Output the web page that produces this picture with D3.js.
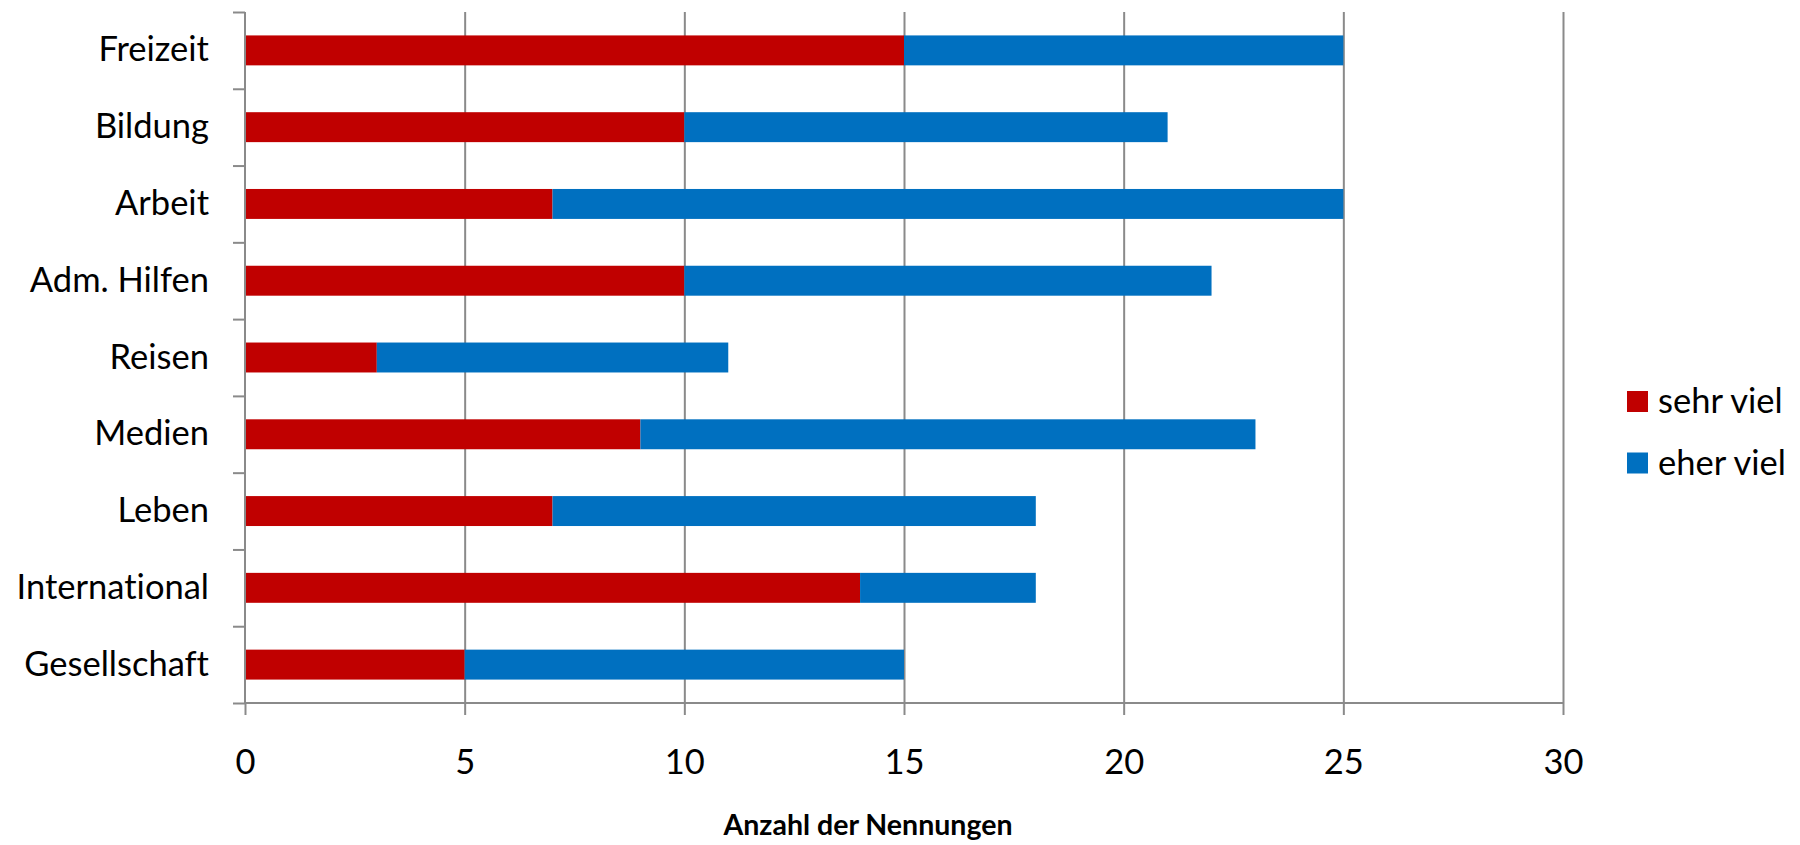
<!DOCTYPE html>
<html>
<head>
<meta charset="utf-8">
<script src="https://cdn.jsdelivr.net/npm/d3@7"></script>
<style>
  html, body { margin: 0; padding: 0; background: #fff; }
  svg { display: block; }
  text { font-family: Lato, "Open Sans", sans-serif; fill: #000; font-variant-ligatures: none; font-feature-settings: "liga" 0, "clig" 0; }
</style>
</head>
<body>
<svg id="chart" width="1800" height="845"></svg>
<script>
// Categories from top to bottom
const categories = ["Freizeit", "Bildung", "Arbeit", "Adm. Hilfen", "Reisen", "Medien", "Leben", "International", "Gesellschaft"];
// Number of mentions per answer
const sehrViel = [15, 10, 7, 10, 3, 9, 7, 14, 5];
const eherViel = [10, 11, 18, 12, 8, 14, 11, 4, 10];
const seriesNames = ["sehr viel", "eher viel"];
const seriesColors = ["#C00000", "#0070C0"];
const xTicks = [0, 5, 10, 15, 20, 25, 30];
const xTitle = "Anzahl der Nennungen";

const svg = d3.select("#chart");
const plotLeft = 245, plotRight = 1563, plotTop = 12, plotBottom = 703;
const labelSize = 34.5;

const x = d3.scaleLinear().domain([0, 30]).range([plotLeft, plotRight]);
const y = d3.scaleBand().domain(categories).range([plotTop, plotBottom])
  .paddingInner(0.61).paddingOuter(0.305);

// Vertical gridlines behind the bars
svg.append("g")
  .attr("transform", `translate(0,${plotBottom})`)
  .call(d3.axisBottom(x).tickValues(xTicks.slice(1)).tickSize(-(plotBottom - plotTop)).tickFormat(""))
  .call(g => g.select(".domain").remove())
  .call(g => g.selectAll("line").attr("stroke", "#8a8a8a").attr("stroke-width", 2));

// Stacked bars
const stackData = categories.map((c, i) => ({ cat: c, s0: sehrViel[i], s1: eherViel[i] }));
const stacked = d3.stack().keys(["s0", "s1"])(stackData);

svg.append("g").selectAll("g")
  .data(stacked)
  .join("g")
  .attr("fill", (d, i) => seriesColors[i])
  .selectAll("rect")
  .data(d => d)
  .join("rect")
  .attr("x", d => x(d[0]))
  .attr("width", d => x(d[1]) - x(d[0]))
  .attr("y", d => y(d.data.cat))
  .attr("height", y.bandwidth());

// X axis with outward ticks
const xAxis = svg.append("g")
  .attr("transform", `translate(0,${plotBottom})`)
  .call(d3.axisBottom(x).tickValues(xTicks).tickSize(12).tickPadding(47));
xAxis.selectAll("line, path").attr("stroke", "#8a8a8a").attr("stroke-width", 2);
xAxis.select(".domain").attr("d", `M${plotLeft},0H${plotRight}`);
xAxis.selectAll("text")
  .attr("font-size", labelSize)
  .attr("font-family", "Lato, sans-serif")
  .attr("fill", "#000")
  .attr("dy", "0.35em");

// Y axis: boundary ticks between categories
const boundaries = d3.range(categories.length + 1).map(i => plotTop + i * y.step());
const yBound = d3.scaleLinear().domain([plotTop, plotBottom]).range([plotTop, plotBottom]);
const yAxis = svg.append("g")
  .attr("transform", `translate(${plotLeft},0)`)
  .call(d3.axisLeft(yBound).tickValues(boundaries).tickSize(12).tickFormat(""));
yAxis.selectAll("line, path").attr("stroke", "#8a8a8a").attr("stroke-width", 2);
yAxis.select(".domain").attr("d", `M0,${plotTop}V${plotBottom}`);

// Category labels
svg.append("g")
  .attr("transform", `translate(${plotLeft},0)`)
  .call(d3.axisLeft(y).tickSize(0).tickPadding(36))
  .call(g => g.select(".domain").remove())
  .selectAll("text")
  .attr("font-size", labelSize)
  .attr("font-family", "Lato, sans-serif")
  .attr("fill", "#000");

// Axis title
svg.append("text")
  .attr("x", 868)
  .attr("y", 835)
  .attr("text-anchor", "middle")
  .attr("font-size", 28.5)
  .attr("font-weight", "bold")
  .text(xTitle);

// Legend
const legend = svg.append("g").attr("transform", "translate(1627,391)");
seriesNames.forEach((name, i) => {
  const g = legend.append("g").attr("transform", `translate(0,${i * 61.5})`);
  g.append("rect").attr("width", 21).attr("height", 21).attr("fill", seriesColors[i]);
  g.append("text").attr("x", 31).attr("y", 22).attr("font-size", labelSize).text(name);
});
</script>
</body>
</html>
